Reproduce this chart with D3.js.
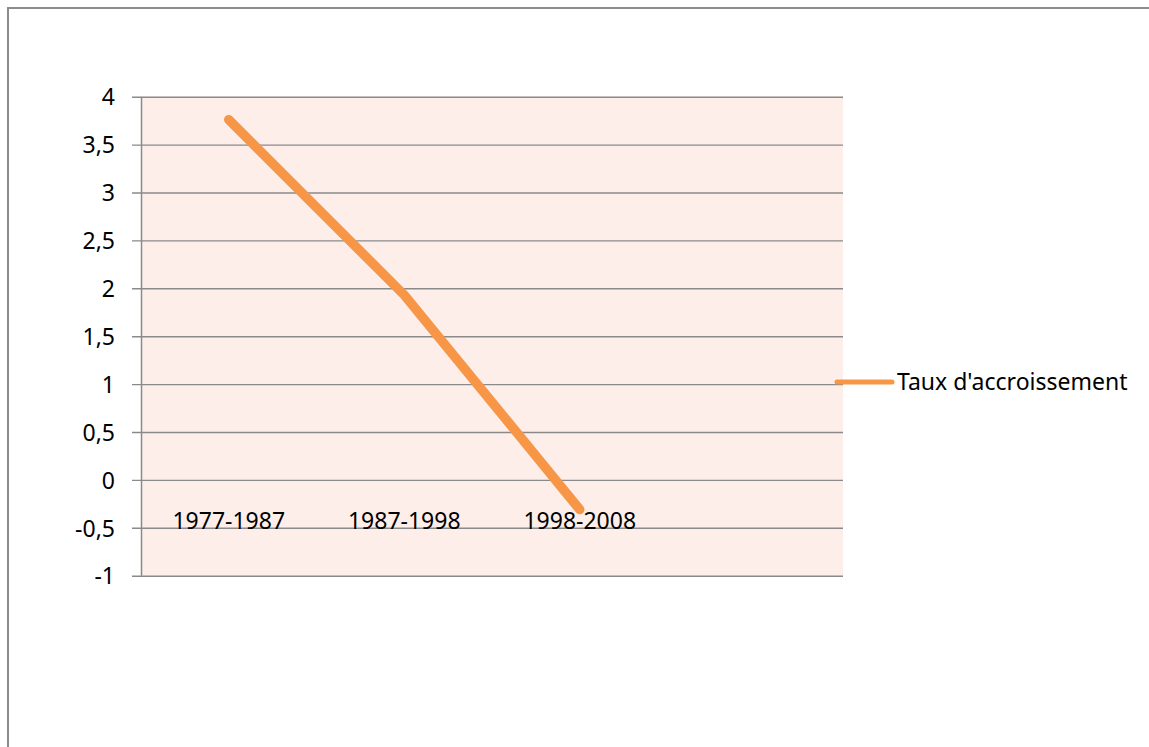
<!DOCTYPE html>
<html>
<head>
<meta charset="utf-8">
<script src="https://cdn.jsdelivr.net/npm/d3@7"></script>
<style>
  html, body { margin: 0; padding: 0; background: #fff; }
  svg { display: block; }
  svg text { font-family: "Noto Sans", "Open Sans", sans-serif; font-size: 23px; }
</style>
</head>
<body>
<div class="canvas"></div>
<script>
// data
const categories = ['1977-1987', '1987-1998', '1998-2008', ''];
const values = [3.76, 1.93, -0.31, null];
const seriesName = "Taux d'accroissement";
const yTicks = [-1, -0.5, 0, 0.5, 1, 1.5, 2, 2.5, 3, 3.5, 4];

const dims = { width: 1149, height: 747, left: 141, right: 843, top: 96.7, bottom: 575.7 };
const colours = { line: '#f79646', grid: '#8a8a8a', plot: '#fdeeea', frame: '#8c8c8c', text: '#000' };

const fr = d3.formatLocale({ decimal: ',', thousands: ' ', grouping: [3], currency: ['', '€'], minus: '-' });
const tickFormat = fr.format('~g');

const svg = d3.select('.canvas')
    .append('svg')
    .attr('width', dims.width)
    .attr('height', dims.height);

// outer chart frame (runs off the right and bottom edges)
svg.append('rect')
    .attr('x', 8).attr('y', 8)
    .attr('width', dims.width + 20).attr('height', dims.height + 20)
    .attr('fill', 'none')
    .attr('stroke', colours.frame)
    .attr('stroke-width', 2);

const x = d3.scaleBand()
    .domain(categories)
    .range([dims.left, dims.right])
    .padding(0);

const y = d3.scaleLinear()
    .domain([-1, 4])
    .range([dims.bottom, dims.top]);

// plot area
svg.append('rect')
    .attr('x', dims.left).attr('y', dims.top)
    .attr('width', dims.right - dims.left)
    .attr('height', dims.bottom - dims.top)
    .attr('fill', colours.plot);

// y axis with gridlines
const yAxis = svg.append('g')
    .attr('transform', `translate(${dims.left},0)`)
    .call(d3.axisLeft(y)
        .tickValues(yTicks)
        .tickSize(-(dims.right - dims.left))
        .tickSizeOuter(0)
        .tickPadding(0)
        .tickFormat(tickFormat))
    .attr('font-family', null)
    .attr('font-size', null);

yAxis.select('.domain')
    .attr('stroke', colours.grid)
    .attr('stroke-width', 1.5)
    .attr('d', `M0.5,${dims.top}V${dims.bottom}`);

yAxis.selectAll('.tick line')
    .attr('stroke', colours.grid)
    .attr('stroke-width', 1.4)
    .attr('x1', -9);

yAxis.selectAll('.tick text')
    .attr('x', -26)
    .attr('dy', '0.36em')
    .attr('fill', colours.text);

// category labels (sit just below the zero line, as in the source)
svg.append('g')
    .selectAll('text')
    .data(categories.filter(c => c !== ''))
    .join('text')
    .attr('x', d => x(d) + x.bandwidth() / 2)
    .attr('y', 529)
    .attr('text-anchor', 'middle')
    .attr('fill', colours.text)
    .text(d => d);

// series line
const points = categories
    .map((c, i) => ({ c, v: values[i] }))
    .filter(d => d.v !== null);

const line = d3.line()
    .x(d => x(d.c) + x.bandwidth() / 2)
    .y(d => y(d.v));

svg.append('path')
    .datum(points)
    .attr('fill', 'none')
    .attr('stroke', colours.line)
    .attr('stroke-width', 9.5)
    .attr('stroke-linecap', 'round')
    .attr('stroke-linejoin', 'round')
    .attr('d', line);

// legend
const legend = svg.append('g')
    .attr('transform', 'translate(837,382)');

legend.append('line')
    .attr('x1', 0).attr('x2', 55)
    .attr('stroke', colours.line)
    .attr('stroke-width', 5)
    .attr('stroke-linecap', 'round');

legend.append('text')
    .attr('x', 60)
    .attr('dy', '0.36em')
    .attr('fill', colours.text)
    .text(seriesName);
</script>
</body>
</html>
